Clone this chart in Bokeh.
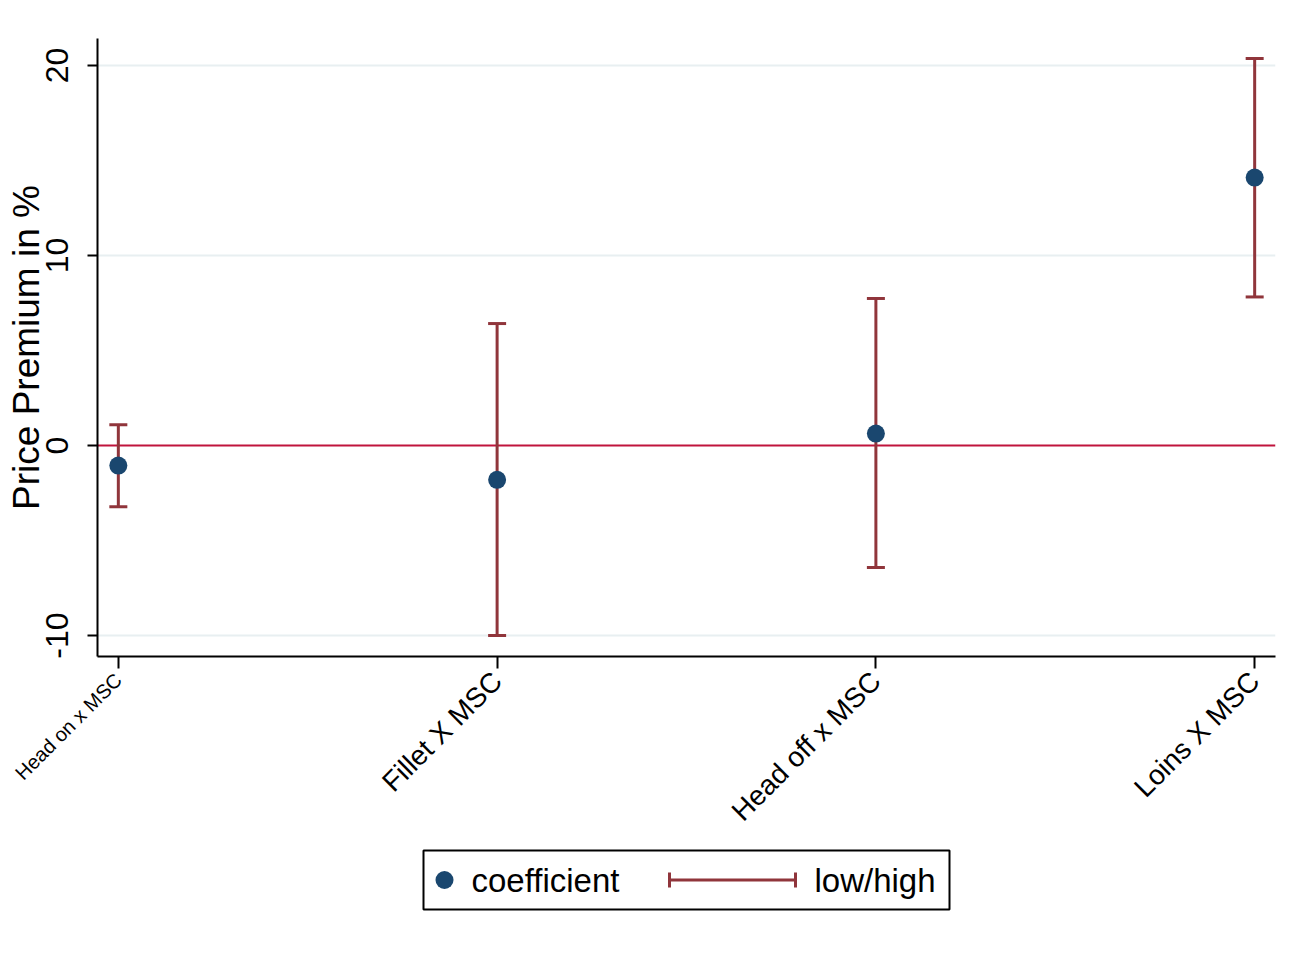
import math
from bokeh.plotting import figure
from bokeh.models import Range1d, FixedTicker, Span, Label, ColumnDataSource
from bokeh.layouts import column
from bokeh.embed import file_html
from bokeh.resources import INLINE
from bokeh.core.properties import value

# ---------------- data ----------------
categories = ["Head on x MSC", "Fillet X MSC", "Head off x MSC", "Loins X MSC"]
coefficient = [-1.05, -1.8, 0.63, 14.1]
low = [-3.22, -10.0, -6.42, 7.82]
high = [1.1, 6.42, 7.74, 20.37]
y_ticks = [-10, 0, 10, 20]
legend_labels = ["coefficient", "low/high"]
y_title = "Price Premium in %"

# ---------------- style ----------------
FONT = "Liberation Sans"
NAVY = "#1a476f"
MAROON = "#90353b"
ZERO = "#c0143c"
GRID = "#e8eff1"

PAGE_W, PAGE_H = 1309, 954
FL, FT, FW, FH = 97, 38, 1178, 618      # frame left, top, width, height
BOTTOM = 264                             # min height of the bottom side panel (axis + label)
PULL_UP = 109                            # overlap of the legend strip with the empty bottom panel

xpos = list(range(1, len(categories) + 1))
src = ColumnDataSource(dict(x=xpos, coef=coefficient, low=low, high=high))

p = figure(frame_width=FW, frame_height=FH,
           x_range=Range1d(0.945, 4.055), y_range=Range1d(-11.1, 21.42),
           output_backend="svg", toolbar_location=None,
           min_border_left=FL, min_border_top=FT,
           min_border_right=PAGE_W - FL - FW, min_border_bottom=BOTTOM)
p.outline_line_color = None
p.background_fill_color = "white"
p.border_fill_color = "white"

# y axis
yax = p.yaxis[0]
yax.ticker = FixedTicker(ticks=y_ticks)
yax.major_label_overrides = {t: str(t) for t in y_ticks}
yax.major_label_orientation = "vertical"
yax.major_label_text_font = FONT
yax.major_label_text_font_size = "32px"
yax.major_label_text_color = "black"
yax.major_label_standoff = 19
yax.major_tick_out = 10
yax.major_tick_in = 0
yax.minor_tick_out = 0
yax.minor_tick_in = 0
yax.major_tick_line_width = 2
yax.axis_line_width = 2
yax.axis_label = y_title
yax.axis_label_text_font = FONT
yax.axis_label_text_font_size = "37px"
yax.axis_label_text_font_style = "normal"
yax.axis_label_text_color = "black"
yax.axis_label_standoff = -3

# x axis
xax = p.xaxis[0]
xax.ticker = FixedTicker(ticks=xpos)
xax.major_label_overrides = {x: (c if i > 0 else "") for i, (x, c) in enumerate(zip(xpos, categories))}
xax.major_label_orientation = math.pi / 4
xax.major_label_text_font = FONT
xax.major_label_text_font_size = "28px"
xax.major_label_text_color = "black"
xax.major_label_standoff = 8
xax.major_tick_out = 12
xax.major_tick_in = 0
xax.minor_tick_out = 0
xax.minor_tick_in = 0
xax.major_tick_line_width = 2
xax.axis_line_width = 2

# first category label is smaller in the original (placed in the side panel so it is not clipped)
p.add_layout(Label(x=xpos[0], y=p.y_range.start, x_units="data", y_units="data",
                   y_offset=-20, text=categories[0], angle=math.pi / 4,
                   text_align="right", text_baseline="middle",
                   text_font=FONT, text_font_size="20px", text_color="black"), "below")

# grid
p.xgrid.visible = False
p.ygrid.ticker = FixedTicker(ticks=[t for t in y_ticks if t != 0])
p.ygrid.grid_line_color = GRID
p.ygrid.grid_line_width = 2

# zero line
p.add_layout(Span(location=0, dimension="width", line_color=ZERO, line_width=2, level="underlay"))

# error bars
p.segment(x0="x", y0="low", x1="x", y1="high", source=src, line_color=MAROON, line_width=3)
p.scatter(x="x", y="low", source=src, marker="dash", size=18, line_color=MAROON, line_width=3)
p.scatter(x="x", y="high", source=src, marker="dash", size=18, line_color=MAROON, line_width=3)
# coefficients
p.scatter(x="x", y="coef", source=src, marker="circle", size=18, fill_color=NAVY, line_color=None)

# ---------------- legend strip (page-pixel coordinates) ----------------
top = 846
LH = PAGE_H - top
lg = figure(frame_width=FW, height=LH,
            x_range=Range1d(FL, FL + FW), y_range=Range1d(PAGE_H, top),
            min_border_left=FL, min_border_right=PAGE_W - FL - FW,
            min_border_top=0, min_border_bottom=0,
            output_backend="svg", toolbar_location=None,
            margin=(-PULL_UP, 0, 0, 0))
lg.axis.visible = False
lg.grid.visible = False
lg.outline_line_color = None
lg.background_fill_alpha = 0
lg.border_fill_alpha = 0

bx0, bx1, by0, by1 = 423, 949, 850, 909
cy = (by0 + by1) / 2
lg.quad(left=[bx0], right=[bx1], top=[by0], bottom=[by1], fill_color="white",
        line_color="black", line_width=2)
lg.scatter([bx0 + 21], [cy], marker="circle", size=18, fill_color=NAVY, line_color=None)
lg.text([bx0 + 48], [cy], text=[legend_labels[0]], text_baseline="middle",
        text_font=value(FONT), text_font_size="33px", text_color="black")
ex0, ex1 = bx0 + 246, bx0 + 372
lg.segment([ex0], [cy], [ex1], [cy], line_color=MAROON, line_width=3)
lg.segment([ex0, ex1], [cy - 7.5, cy - 7.5], [ex0, ex1], [cy + 7.5, cy + 7.5],
           line_color=MAROON, line_width=3)
lg.text([bx0 + 391], [cy], text=[legend_labels[1]], text_baseline="middle",
        text_font=value(FONT), text_font_size="33px", text_color="black")

layout = column(p, lg, spacing=0)
open("out.html", "w").write(file_html(layout, INLINE))
